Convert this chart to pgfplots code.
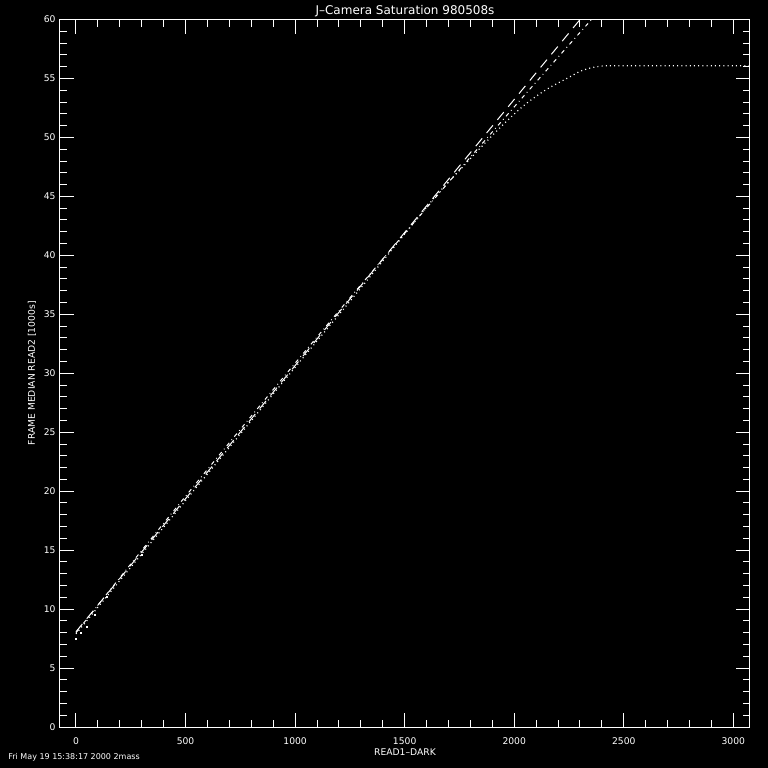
\documentclass[border=0pt]{standalone}
\usepackage{fontspec}
\setmainfont{DejaVu Sans}
\usepackage{pgfplots}
\pgfplotsset{compat=1.18}
\begin{document}
\begin{tikzpicture}[x=1pt,y=1pt]
\fill[black] (0,0) rectangle (384,384);
\useasboundingbox (0,0) rectangle (384,384);
\begin{axis}[
  at={(30pt,20.5pt)}, anchor=south west,
  scale only axis, width=345pt, height=353.75pt,
  xmin=-73, xmax=3076, ymin=0, ymax=60,
  axis line style={white, line width=0.5pt},
  every tick/.style={white, line width=0.5pt},
  tick align=inside,
  major tick length=7pt, minor tick length=3.5pt,
  xtick pos=both, ytick pos=both,
  xticklabel pos=lower, yticklabel pos=left,
  xtick={0,500,...,3000}, ytick={0,5,...,60},
  minor x tick num=4, minor y tick num=4,
  /pgf/number format/1000 sep={},
  /pgf/number format/assume math mode=true,
  ticklabel style={font=\fontsize{4.6}{5}\selectfont, text=white},
  xticklabel style={inner sep=0pt, anchor=north, yshift=-5pt},
  yticklabel style={inner sep=0pt, anchor=east, xshift=-2pt},
  clip=true,
]
% linear fit (dashed)
\addplot[white, line width=0.5pt, dash pattern=on 5pt off 3.5pt] coordinates {(0,8.08) (2330,60.67)};
% curved fit (dash-dot)
\addplot[white, line width=0.5pt, dash pattern=on 2pt off 1.8pt on 0.4pt off 1.8pt, smooth] coordinates {
(0,8.00) (250,13.82) (500,19.57) (750,25.24) (1000,30.85) (1250,36.39) (1500,41.86) (1750,47.26) (2000,52.59) (2250,57.85) (2400,60.98)};
% measured data (dotted)
\addplot[white, line width=0.6pt, dash pattern=on 0.5pt off 1.6pt, smooth] coordinates {
(0,7.9) (250,13.55) (500,19.2) (750,24.85) (1000,30.5) (1250,36.1) (1500,41.8) (1650,45.2) (1750,47.2) (1850,49.2) (1950,51.1) (2050,52.8) (2150,54.1) (2250,55.1) (2300,55.6) (2350,55.9) (2400,56.05) (2450,56.08) (2700,56.08) (3076,56.08)};
% scattered low points
\addplot[only marks, mark=square*, mark size=0.3pt, white] coordinates {(0,7.44) (23,7.95) (49,8.48) (87,9.5) (140,11.0) (300,14.6)};
\end{axis}
\node[anchor=base, inner sep=0pt, text=white, font=\fontsize{6}{7}\selectfont] at (202.5,377) {J–Camera Saturation 980508s};
\node[anchor=base, inner sep=0pt, text=white, font=\fontsize{4.6}{5}\selectfont] at (202.5,6) {READ1–DARK};
\node[anchor=base, rotate=90, inner sep=0pt, text=white, font=\fontsize{4.6}{5}\selectfont] at (17.5,197.4) {FRAME MEDIAN READ2 [1000s]};
\node[anchor=base west, inner sep=0pt, text=white, font=\fontsize{4}{5}\selectfont] at (4,4.35) {Fri May 19 15:38:17 2000 2mass};
\end{tikzpicture}
\end{document}
